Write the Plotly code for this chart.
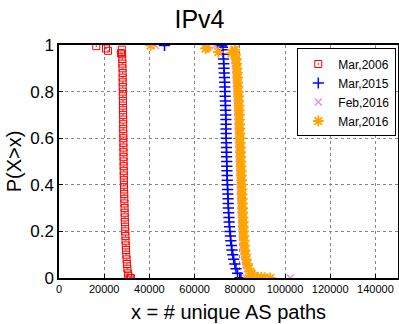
import plotly.graph_objects as go

# shared CCDF levels for the main bands
levels = [0.98, 0.96, 0.94, 0.92, 0.90, 0.88, 0.86, 0.84, 0.82, 0.80,
          0.78, 0.76, 0.74, 0.72, 0.70, 0.68, 0.66, 0.64, 0.62, 0.60,
          0.58, 0.56, 0.54, 0.52, 0.50, 0.48, 0.46, 0.44, 0.42, 0.40,
          0.38, 0.36, 0.34, 0.32, 0.30, 0.28, 0.26, 0.24, 0.22, 0.20,
          0.18, 0.16, 0.14, 0.12, 0.10, 0.08, 0.06, 0.04, 0.02, 0.00]

# Mar,2006
red_band_x = [27800, 27900, 28000, 28050, 28100, 28150, 28150, 28200, 28200, 28250,
              28250, 28300, 28300, 28350, 28350, 28400, 28400, 28400, 28450, 28450,
              28500, 28500, 28550, 28550, 28600, 28600, 28650, 28650, 28700, 28750,
              28800, 28850, 28900, 28950, 29000, 29050, 29100, 29150, 29250, 29300,
              29400, 29450, 29550, 29650, 29750, 29900, 30050, 30250, 30500, 31300]
red_extra_x = [16500, 20800, 21700, 27400, 30700, 31800]
red_extra_y = [0.995, 0.985, 0.975, 0.965, 0.01, 0.0]

# Mar,2015
blue_band_x = [72500, 72650, 72800, 72900, 73000, 73100, 73200, 73300, 73350, 73450,
               73500, 73600, 73650, 73700, 73800, 73850, 73900, 73900, 73950, 74000,
               74050, 74100, 74100, 74150, 74200, 74250, 74300, 74400, 74450, 74550,
               74600, 74700, 74800, 74850, 74950, 75050, 75200, 75300, 75450, 75650,
               75850, 76000, 76300, 76500, 76900, 77300, 77800, 78300, 79000, 80000]
blue_extra_x = [46700, 72000, 72300, 80500]
blue_extra_y = [0.998, 0.997, 0.99, 0.0]

# Feb,2016
violet_band_x = [77200, 77500, 77800, 78000, 78200, 78350, 78450, 78550, 78650, 78750,
                 78850, 78950, 79050, 79100, 79200, 79250, 79350, 79400, 79500, 79550,
                 79600, 79700, 79750, 79800, 79900, 79950, 80050, 80100, 80200, 80250,
                 80350, 80400, 80500, 80550, 80650, 80700, 80800, 80900, 80950, 81100,
                 81200, 81350, 81500, 81700, 82000, 82300, 82700, 83300, 84300, 86000]
violet_extra_x = [42700, 69000, 82800, 102300]
violet_extra_y = [0.998, 0.995, 0.0, 0.0]

# Mar,2016
orange_band_x = [77800, 78100, 78400, 78600, 78800, 78950, 79050, 79150, 79250, 79350,
                 79450, 79550, 79650, 79700, 79800, 79850, 79950, 80000, 80100, 80150,
                 80200, 80300, 80350, 80400, 80500, 80550, 80650, 80700, 80800, 80850,
                 80950, 81000, 81100, 81150, 81250, 81300, 81400, 81500, 81550, 81700,
                 81800, 81950, 82100, 82300, 82600, 82900, 83300, 84000, 85200, 88000]
orange_extra_x = [40600, 64900, 65600, 70500, 76300, 86500, 89500, 91000, 93500, 84000]
orange_extra_y = [0.998, 0.985, 0.99, 0.97, 0.965, 0.01, 0.003, 0.002, 0.0, 0.0]

x_ticks = [0, 20000, 40000, 60000, 80000, 100000, 120000, 140000]
y_ticks = [0, 0.2, 0.4, 0.6, 0.8, 1]
y_tick_text = ["0", "0.2", "0.4", "0.6", "0.8", "1"]

series = [
    ("Mar,2006", red_extra_x + red_band_x, red_extra_y + levels, "square-open-dot", 7, "#ff0000", 1),
    ("Mar,2015", blue_extra_x + blue_band_x, blue_extra_y + levels, "cross-thin-open", 8, "#0000ff", 1.5),
    ("Feb,2016", violet_extra_x + violet_band_x, violet_extra_y + levels, "x-thin-open", 7, "#ee82ee", 1.2),
    ("Mar,2016", orange_extra_x + orange_band_x, orange_extra_y + levels, "asterisk-open", 9, "#ffa500", 1.8),
]

fig = go.Figure()
for name, xs, ys, sym, size, color, lw in series:
    fig.add_trace(go.Scatter(x=xs, y=ys, mode="markers", name=name,
                             marker=dict(symbol=sym, size=size, color=color,
                                         line=dict(width=lw, color=color))))

fig.update_layout(
    width=399, height=324,
    margin=dict(l=59, r=1, t=45, b=46),
    paper_bgcolor="white", plot_bgcolor="white",
    font=dict(family="Liberation Sans, Arial, sans-serif", color="black"),
    title=dict(text="IPv4", x=0.5, xanchor="center", y=0.94, yanchor="middle",
               font=dict(size=25, color="black")),
    legend=dict(x=0.995, xanchor="right", y=0.985, yanchor="top",
                bordercolor="black", borderwidth=1, bgcolor="white",
                font=dict(size=12), itemwidth=30, tracegroupgap=0),
    showlegend=True,
)
fig.update_xaxes(range=[0, 150000], tickvals=x_ticks, ticktext=[str(v) for v in x_ticks],
                 showline=True, linecolor="black", linewidth=1.5, mirror=True,
                 ticks="inside", ticklen=4, tickcolor="black",
                 showgrid=True, gridcolor="#888888", griddash="dot", gridwidth=1,
                 zeroline=False, tickfont=dict(size=11), automargin=False,
                 title=dict(text="x = # unique AS paths", font=dict(size=20), standoff=11))
fig.update_yaxes(range=[0, 1], tickvals=y_ticks, ticktext=y_tick_text,
                 showline=True, linecolor="black", linewidth=1.5, mirror=True,
                 ticks="inside", ticklen=4, tickcolor="black",
                 showgrid=True, gridcolor="#888888", griddash="dot", gridwidth=1,
                 zeroline=False, tickfont=dict(size=17), automargin=False,
                 title=dict(text="P(X>x)", font=dict(size=20), standoff=3))

fig.write_html("out.html", config={"displayModeBar": False},
               post_script="document.body.style.margin='0';")
